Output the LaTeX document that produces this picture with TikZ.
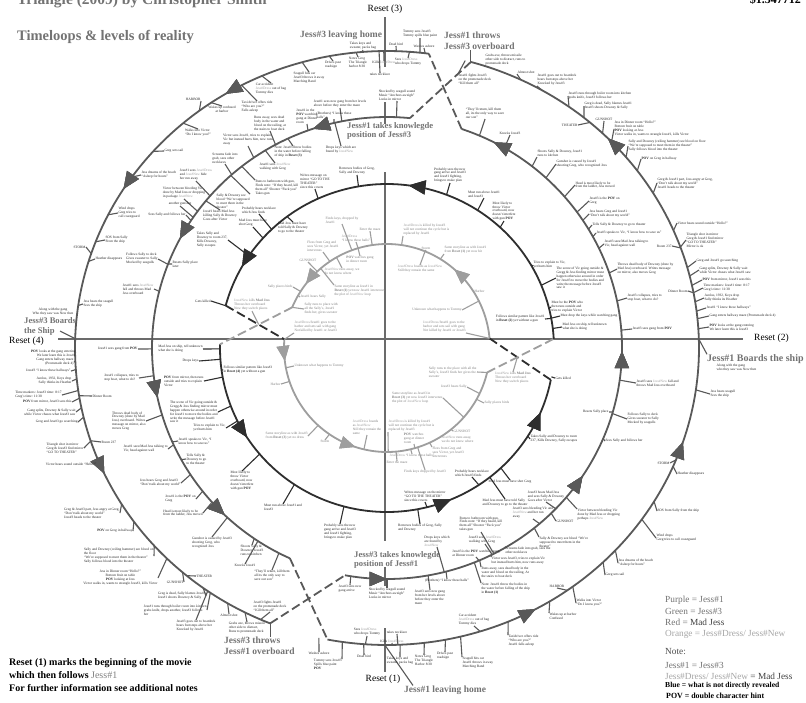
\documentclass[tikz,border=0pt]{standalone}
\usepackage{fontspec}
\setmainfont{Liberation Serif}
\usetikzlibrary{calc,decorations.markings,arrows.meta}
\definecolor{ringc}{gray}{0.35}
\definecolor{innc}{gray}{0.18}
\definecolor{grc}{gray}{0.62}
\definecolor{axc}{gray}{0.42}
\definecolor{ttl}{gray}{0.45}
\newcounter{tkn}
\newcommand{\jd}[1]{\textcolor{black!38}{#1}}
\def\Rox{312}\def\Roy{297}
\def\Rmx{235}\def\Rmy{231}
\def\Rix{167}\def\Riy{164}
\def\Rgx{103}\def\Rgy{104}
\newcommand{\tk}[5]{%
  \stepcounter{tkn}\edef\tkn{\arabic{tkn}}%
  \node[lbl,anchor=#3,#4] (L\tkn) at (#2) {#5};%
  \path let \p1=($(L\tkn.#3)-(C)$), \n1={atan2(\y1,\x1)} in
    coordinate (P\tkn) at ($(C)+(\n1:\csname R#1x\endcsname pt and \csname R#1y\endcsname pt)$);%
  \draw[tick-#1] (P\tkn) -- (L\tkn.#3);}
\tikzset{
 lbl/.style={font=\fontsize{3.5}{3.9}\selectfont, inner sep=0.3pt, text=black!85},
 gl/.style={text=black!50},
 tick-o/.style={draw=ringc, line width=1.1pt},
 tick-m/.style={draw=ringc, line width=1.1pt},
 tick-i/.style={draw=innc, line width=1.1pt},
 tick-g/.style={draw=grc, line width=1.1pt},
 ringo/.style={draw=ringc, line width=1.8pt},
 ringi/.style={draw=innc, line width=1.8pt},
 ringg/.style={draw=grc, line width=1.8pt},
 dashc/.style={draw=ringc, line width=1.8pt, dash pattern=on 9pt off 4pt},
 dashk/.style={draw=innc, line width=1.8pt, dash pattern=on 9pt off 4pt},
 dashg/.style={draw=grc, line width=1.8pt, dash pattern=on 9pt off 4pt},
 axis/.style={draw=axc, line width=1.6pt},
 big/.style={font=\bfseries\fontsize{9.5}{11}\selectfont, text=ttl, align=left, inner sep=0pt},
 resetl/.style={font=\fontsize{9.5}{11}\selectfont, text=black, inner sep=0pt},
 leg/.style={font=\fontsize{9.3}{11}\selectfont, inner sep=0pt, anchor=west},
 AR/.style={decoration={markings, mark=at position #1 with {\arrow{Triangle[length=17pt,width=14pt]}}}, postaction={decorate}},
 ARs/.style={decoration={markings, mark=at position #1 with {\arrow{Triangle[length=15pt,width=12.5pt]}}}, postaction={decorate}},
}
\begin{document}
\begin{tikzpicture}[x=1pt,y=-1pt]
\fill[white] (0,0) rectangle (806,702);
\useasboundingbox (0,0) rectangle (806,702);
\coordinate (C) at (387,348);

% ---------- titles ----------
\node[font=\bfseries\fontsize{15.5}{17}\selectfont, text=ttl, anchor=base west, inner sep=0pt] (title) at (17,4) {Triangle (2009) by Christopher Smith};
\node[font=\bfseries\fontsize{12}{14}\selectfont, anchor=base east, inner sep=0pt] (money) at (801,3.5) {\$1.547712};
\node[font=\bfseries\fontsize{14.5}{16}\selectfont, text=ttl, anchor=base west, inner sep=0pt] (sub) at (17,40) {Timeloops \& levels of reality};

% ---------- axes ----------
\coordinate (h1) at (58,339); \coordinate (h2) at (743,339);
\draw[axis] (h1) -- (h2);
\coordinate (v1) at (385,17); \coordinate (v2) at (385,67);
\coordinate (v3) at (385,102); \coordinate (v4) at (385,124);
\coordinate (v5) at (385,172); \coordinate (v6) at (385,541);
\coordinate (v7) at (385,567); \coordinate (v8) at (385,586);
\coordinate (v9) at (385,628); \coordinate (v10) at (385,672);
\draw[axis] (v1) -- (v2); \draw[axis] (v3) -- (v4); \draw[axis] (v5) -- (v6);
\draw[axis] (v7) -- (v8); \draw[axis] (v9) -- (v10);

% ---------- arc end points ----------
\coordinate (oRs) at ({387+\Rox*cos(101)},{348+\Roy*sin(101)});
\coordinate (oRe) at ({387+\Rox*cos(-74.4)},{348+\Roy*sin(-74.4)});
\coordinate (oLs) at ({387+\Rox*cos(-82.3)},{348+\Roy*sin(-82.3)});
\coordinate (oLe) at ({387+\Rox*cos(-248)},{348+\Roy*sin(-248)});
\coordinate (mLs) at ({387+\Rmx*cos(-84.4)},{348+\Rmy*sin(-84.4)});
\coordinate (mLe) at ({387+\Rmx*cos(-245.6)},{348+\Rmy*sin(-245.6)});
\coordinate (mRs) at ({387+\Rmx*cos(100.3)},{348+\Rmy*sin(100.3)});
\coordinate (mRe) at ({387+\Rmx*cos(-71.5)},{348+\Rmy*sin(-71.5)});
\coordinate (iUs) at ({387+\Rix*cos(-3.2)},{348+\Riy*sin(-3.2)});
\coordinate (iUe) at ({387+\Rix*cos(-165)},{348+\Riy*sin(-165)});
\coordinate (iLs) at ({387+\Rix*cos(-178.7)},{348+\Riy*sin(-178.7)});
\coordinate (iLe) at ({387+\Rix*cos(-348.8)},{348+\Riy*sin(-348.8)});
\coordinate (gLs) at ({387+\Rgx*cos(-175.2)},{348+\Rgy*sin(-175.2)});
\coordinate (gLe) at ({387+\Rgx*cos(-346.4)},{348+\Rgy*sin(-346.4)});
\coordinate (gUs) at ({387+\Rgx*cos(-5.3)},{348+\Rgy*sin(-5.3)});
\coordinate (gUe) at ({387+\Rgx*cos(-157)},{348+\Rgy*sin(-157)});
\coordinate (oBot) at ({387+\Rox*cos(90.4)},{348+\Roy*sin(90.4)});
\coordinate (oRt) at ({387+\Rox*cos(-1.7)},{348+\Roy*sin(-1.7)});
\coordinate (oLt) at ({387+\Rox*cos(-178.2)},{348+\Roy*sin(-178.2)});

% ---------- rings ----------
\draw[ringo, AR=0.23, AR=0.475, AR=0.83]
  plot[domain=101:-74.4, samples=160] ({387+\Rox*cos(\x)},{348+\Roy*sin(\x)});
\draw[ringo, AR=0.24, AR=0.40, AR=0.74]
  plot[domain=-82.3:-248, samples=160] ({387+\Rox*cos(\x)},{348+\Roy*sin(\x)});
\draw[ringo, AR=0.15, AR=0.42, AR=0.67, AR=0.88]
  plot[domain=-84.4:-245.6, samples=160] ({387+\Rmx*cos(\x)},{348+\Rmy*sin(\x)});
\draw[ringo, AR=0.06, AR=0.39, AR=0.58, AR=0.95]
  plot[domain=100.3:-71.5, samples=160] ({387+\Rmx*cos(\x)},{348+\Rmy*sin(\x)});
\draw[ringi, AR=0.49, AR=0.91]
  plot[domain=-3.2:-165, samples=140] ({387+\Rix*cos(\x)},{348+\Riy*sin(\x)});
\draw[ringi, AR=0.20, AR=0.67, AR=0.93]
  plot[domain=-178.7:-348.8, samples=140] ({387+\Rix*cos(\x)},{348+\Riy*sin(\x)});
\draw[ringg, ARs=0.07, ARs=0.45]
  plot[domain=-175.2:-346.4, samples=120] ({387+\Rgx*cos(\x)},{348+\Rgy*sin(\x)});
\draw[ringg, ARs=0.29, ARs=0.90]
  plot[domain=-5.3:-157, samples=120] ({387+\Rgx*cos(\x)},{348+\Rgy*sin(\x)});

% ---------- dashed crossings ----------
\draw[dashc] (oRe) -- (mLs);
\draw[dashc] (mRe) -- (oLs);
\draw[dashc] (oLe) -- (mRs);
\draw[dashc] (mLe) -- (oRs);
\draw[dashk] (iUe) -- (gLs);
\draw[dashg] (gUe) -- (iLs);
\draw[dashk] (iLe) -- (gUs);
\draw[dashg] (gLe) -- (iUs);
\coordinate (xL) at (intersection of iUe--gLs and gUe--iLs);
\coordinate (xR) at (intersection of iLe--gUs and gLe--iUs);

% ---------- big labels ----------
\node[resetl] (r3) at (385,9) {Reset (3)};
\node[resetl] (r1) at (383,679) {Reset (1)};
\node[resetl, anchor=west] (r4) at (9,341) {Reset (4)};
\node[resetl, anchor=west] (r2) at (754,338) {Reset (2)};
\node[big, anchor=west] (jlh3) at (300,35) {Jess\#3 leaving home};
\node[big, anchor=west] (jlh1) at (404,690) {Jess\#1 leaving home};
\draw[tick-o] (oBot) -- ([xshift=9pt]jlh1.north west);
\node[big, anchor=south west] (jt13) at (444,50) {Jess\#1 throws\\Jess\#3 overboard};
\draw[tick-o] (oRe) -- (oRe |- jt13.south);
\node[big, anchor=north west] (jt31) at (224,637) {Jess\#3 throws\\Jess\#1 overboard};
\draw[tick-o] (oLe) -- (oLe |- jt31.north);
\node[big, font=\bfseries\fontsize{8.6}{9.6}\selectfont, anchor=west] (jk13) at (347,131) {Jess\#1 takes knowlegde\\position of Jess\#3};
\node[big, font=\bfseries\fontsize{8.6}{9.6}\selectfont, anchor=west] (jk31) at (354,560) {Jess\#3 takes knowlegde\\position of Jess\#1};
\node[big, font=\bfseries\fontsize{10}{11}\selectfont, anchor=west] (jb1) at (707,359) {Jess\#1 Boards the ship};
\draw[tick-o] (oRt) -- (jb1.north west);
\node[big, font=\bfseries\fontsize{8.6}{10}\selectfont, anchor=west] (jb3) at (24,326) {Jess\#3 Boards\\the Ship};
\coordinate (jb3t) at (60,331);
\draw[tick-o] (oLt) -- (jb3t);
\node[lbl, align=left, anchor=north west] (alongR) at (716,364) {Along with the gang\\who they saw was New then};
\node[lbl, align=center] (alongL) at (53,312) {Along with the gang\\Who they saw was New then};

% ---------- outer ring, right arc ----------
\tk{o}{319,652}{north}{}{Washes ashore}
\tk{o}{342,659}{north east}{align=left}{Tommy sees Jess\#3\\Spills blue paint\\\textbf{POV}}
\tk{o}{364,655}{north}{}{Dead bird}
\tk{o}{367,636}{south}{align=left}{Sees \jd{Jess\#Dress}\\who drops Tommy}
\tk{o}{392,643}{south}{}{Kills \jd{Jess\#Dress}}
\tk{o}{397,634}{south}{}{takes necklace}
\tk{o}{400,657}{north}{align=left}{Takes keys and\\sweater, packs bag}
\tk{o}{424,655}{north}{align=left}{Notes Greg\\The Triangle\\Harbor 8:30}
\tk{o}{445,652}{north}{align=left}{Drives past\\roadsign}
\tk{o}{462,657}{north west}{align=left}{Seagull hits car\\Jess\#1 throws it away\\Marching Band}
\tk{o}{474,626}{south}{align=left}{Car accident\\\jd{Jess\#Dress} out of bag\\Tommy dies}
\tk{o}{508,635}{north west}{align=left}{Taxidriver offers ride\\``Who are you?''\\Jess\#1 falls asleep}
\tk{o}{549,613}{north west}{align=left}{Wakes up at harbor\\Confused}
\tk{o}{557,588}{south}{}{HARBOR}
\tk{o}{576,603}{west}{align=left}{Walks into Victor\\``Do I know you?''}
\tk{o}{605,575}{west}{}{Greg sets sail}
\tk{o}{618,563}{west}{align=left}{Jess dreams of the beach\\``Asleep for hours''}
\tk{o}{656,538}{west}{align=left}{Wind drops\\Greg tries to call coastguard}
\tk{o}{657,511}{west}{}{SOS from Sally from the ship}
\tk{o}{677,474}{west}{}{Heather disappears}
\tk{o}{670,463}{east}{}{STORM}
\tk{o}{710,394}{west}{align=left}{Jess hears seagull\\Sees the ship}
\tk{o}{709,327}{west}{align=left}{\textbf{POV} looks at the gang entering\\We later learn this is Jess\#3}
\tk{o}{709,316}{west}{}{Gang enters hallway maze (Promenade deck 4)}
\tk{o}{706,308}{west}{}{Jess\#1 ``I know these hallways''}
\tk{o}{704,298}{west}{align=left}{Aeolus, 1932, Keys drop\\Sally thinks its Heather}
\tk{o}{703,288}{west}{align=left}{Time markers: Jess\#1 time: 8:17\\Greg's time: 11:30}
\tk{o}{702,280}{west}{}{\textbf{POV} from mirror, Jess\#1 sees this}
\tk{o}{699,270}{west}{align=left}{Gang splits, Downey \& Sally wait\\while Victor chases what Jess\#1 saw}
\tk{o}{696,261}{west}{}{Greg and Jess\#1 go searching}
\tk{o}{688,291}{east}{}{Dinner Room}
\tk{o}{672,246}{east}{}{Room 237}
\tk{o}{686,240}{west}{align=left}{Triangle shot in mirror\\Greg \& Jess\#1 find mirror\\``GO TO THEATER''\\Mirror is ok}
\tk{o}{677,223}{west}{}{Victor hears sound outside ``Hello?''}
\tk{o}{657,183}{west}{align=left}{Greg \& Jess\#1 part, Jess angry at Greg,\\``Don't talk about my world''\\Jess\#1 heads to the theater}
\tk{o}{641,159}{west}{}{\textbf{POV} on Greg in hallway}
\tk{o}{628,146}{west}{align=left}{Sally and Downey (ceiling hammer) see blood on floor\\``We're supposed to meet them in the theater''\\Sally follows blood into the theater}
\tk{o}{614,129}{west}{align=left}{Jess in Dinner room ``Hello?''\\Bottom fruit on table\\\textbf{POV} looking at Jess\\Victor walks in, wants to strangle Jess\#1, kills Victor}
\tk{o}{604,121}{south}{}{GUNSHOT}
\tk{o}{578,125}{east}{}{THEATER}
\tk{o}{584,106}{west}{align=left}{Greg is dead, Sally blames Jess\#1\\Jess\#3 shoots Downey \& Sally}
\tk{o}{568,96}{west}{align=left}{Jess\#3 runs through boiler room into kitchen\\grabs knife, Jess\#3 follows her}
\tk{o}{537,86}{south west}{align=left}{Jess\#1 goes out to boatdeck\\hears footsteps above her\\Knocked by Jess\#3}
\tk{o}{517,74}{south west}{}{Almost shot}
\tk{o}{485,66}{south west}{align=left}{Grabs axe, throws missile\\other side to distract, runs to\\promenade deck}
\tk{o}{458,74}{north west}{align=left}{Jess\#1 fights Jess\#3\\on the promenade deck\\``Kill them all''}

% ---------- outer ring, left arc ----------
\tk{o}{424,48}{south}{}{Washes ashore}
\tk{o}{420,38}{south}{align=left}{Tommy sees Jess\#3\\Tommy spills blue paint}
\tk{o}{396,46}{south}{}{Dead bird}
\tk{o}{408,58}{north}{align=left}{Sees \jd{Jess\#Dress}\\who drops Tommy}
\tk{o}{384,61}{north}{}{Kills \jd{Jess\#Dress}}
\tk{o}{380,73}{north}{}{takes necklace}
\tk{o}{363,50}{south}{align=left}{Takes keys and\\sweater, packs bag}
\tk{o}{358,57}{north}{align=left}{Notes Greg\\The Triangle\\harbor 8:30}
\tk{o}{333,61}{north}{align=left}{Drives past\\roadsign}
\tk{o}{309,72}{north}{align=left}{Seagull hits car\\Jess\#3 throws it away\\Marching Band}
\tk{o}{271,83}{north}{align=left}{Car accident\\\jd{Jess\#Dress} out of bag\\Tommy dies}
\tk{o}{257,101}{north}{align=left}{Taxi driver offers ride\\``Who are you?''\\Falls asleep}
\tk{o}{222,106}{north}{align=center}{Wakes up confused\\at harbor}
\tk{o}{201,101}{south east}{}{HARBOR}
\tk{o}{198,129}{north}{align=left}{Walks into Victor\\``Do I know you?''}
\tk{o}{164,151}{west}{}{Greg sets sail}
\tk{o}{141,175}{west}{align=left}{Jess dreams of the beach\\``Asleep for hours''}
\tk{o}{118,213}{west}{align=left}{Wind drops\\Greg tries to\\call coastguard}
\tk{o}{105,240}{west}{align=left}{SOS from Sally\\From the ship}
\tk{o}{86,247}{east}{}{STORM}
\tk{o}{95,259}{west}{}{Heather disappears}
\tk{o}{83,304}{west}{align=left}{Jess hears the seagull\\Sees the ship}
\tk{o}{76,353}{east}{align=right}{\textbf{POV} looks at the gang entering\\We later learn this is Jess\#1}
\tk{o}{74,362}{east}{align=right}{Gang enters hallway maze\\(Promenade deck 4)}
\tk{o}{71,371}{east}{}{Jess\#3 ``I know these hallways''}
\tk{o}{72,381}{east}{align=right}{Aeolus, 1932, Keys drop\\Sally thinks its Heather}
\tk{o}{62,395}{east}{align=left}{Time markers: Jess\#3 time: 8:17\\Greg's time: 11:30}
\tk{o}{92,396}{west}{}{Dinner Room}
\tk{o}{72,402}{east}{}{\textbf{POV} from mirror, Jess\#3 sees this}
\tk{o}{76,412}{east}{align=right}{Gang splits, Downey \& Sally wait\\while Victor chases what Jess\#3 saw}
\tk{o}{78,422}{east}{}{Greg and Jess\#3 go searching}
\tk{o}{101,442}{west}{}{Room 237}
\tk{o}{84,448}{east}{align=left}{Triangle shot in mirror\\Greg \& Jess\#3 find mirror\\``GO TO THEATER''}
\tk{o}{97,464}{east}{}{Victor hears sound outside ``Hello?''}
\tk{o}{120,513}{east}{align=left}{Greg \& Jess\#3 part, Jess angry at Greg,\\``Don't talk about my world''\\Jess\#3 heads to the theater}
\tk{o}{133,531}{east}{}{\textbf{POV} on Greg in hallway}
\tk{o}{154,556}{east}{align=left}{Sally and Downey (ceiling hammer) see blood on\\the floor\\``We're supposed to meet them in the theater''\\Sally follows blood into the theater}
\tk{o}{158,578}{east}{align=center}{Jess in Dinner room ``Hello?''\\Bottom fruit on table\\\textbf{POV} looking at Jess\\Victor walks in, wants to strangle Jess\#3, kills Victor}
\tk{o}{184,582}{east}{}{GUNSHOT}
\tk{o}{196,576}{west}{}{THEATER}
\tk{o}{206,596}{east}{align=left}{Greg is dead, Sally blames Jess\#3\\Jess\#1 shoots Downey \& Sally}
\tk{o}{207,610}{east}{align=left}{Jess\#1 runs through boiler room into kitchen\\grabs knife, drops another, Jess\#3 follows\\her}
\tk{o}{196,620}{north}{align=left}{Jess\#3 goes out to boatdeck\\hears footsteps above her\\Knocked by Jess\#1}
\tk{o}{229,614}{north}{}{Almost shot}
\tk{o}{247,622}{north}{align=left}{Grabs axe, throws missile\\other side to distract,\\Runs to promenade deck}
\tk{o}{270,612}{south}{align=left}{Jess\#3 fights Jess\#1\\on the promenade deck\\``Kill them all''}

% ---------- middle ring, left arc ----------
\tk{m}{397,101}{south}{align=left}{Shocked by seagull sound\\Music ``Anchors aweigh''\\Looks in mirror}
\tk{m}{340,108}{south}{align=left}{Jess\#1 sees new gang from her levels\\above before they enter the maze}
\tk{m}{307,124}{south}{align=left}{Jess\#1 in the\\\textbf{POV} watching\\gang at Dinner\\room}
\tk{m}{334,119}{south}{align=left}{(Brothers) ``I know these\\halls''}
\tk{m}{341,146}{north}{align=left}{Drops keys which are\\found by \jd{Jess\#New}}
\tk{m}{270,131}{south}{align=left}{Runs away, sees dead\\body in the water and\\blood on the railing, at\\the stairs to boat deck}
\tk{m}{248,146}{south}{align=left}{Victor sees Jess\#1, tries to explain\\Vic but instead hurts him, now runs\\away}
\tk{m}{293,146}{north}{align=left}{Note: Jess\#3 threw bodies\\in the water before falling\\of ship in \textbf{Reset (3)}}
\tk{m}{275,163}{north}{align=left}{Jess\#1 sees \jd{Jess\#New}\\walking with Greg}
\tk{m}{225,164}{south}{align=left}{Screams fade into\\grab, sees other\\necklaces}
\tk{m}{255,180}{north west}{align=left}{Runs to bathroom with gun,\\Finds note: ``If they heard, kill\\them all'' Shooter ``Fuck you''\\Takes gun}
\tk{m}{250,194}{north east}{align=left}{Sally \& Downey see\\blood ``We're supposed\\to meet them in the\\theater''}
\tk{m}{184,199}{south}{align=left}{Victor between bleeding Vic\\done by Mad Jess or dropping\\in package \jd{Jess\#New}}
\tk{m}{196,181}{south}{align=left}{Jess\#1 sees \jd{Jess\#Dress}\\and \jd{Jess\#New} hide\\her run away}
\tk{m}{180,206}{south}{}{another gunshot}
\tk{m}{220,210}{north}{align=left}{Jess\#1 hears Mad Jess\\killing Sally \& Downey\\Goes after Victor}
\tk{m}{186,215}{east}{}{Sees Sally and follows her}
\tk{m}{158,259}{east}{align=left}{Follows Sally to deck\\Gives sweater to Sally\\Mocked by seagulls}
\tk{m}{172,264}{west}{align=left}{Resets Sally place\\later}
\tk{m}{154,289}{east}{align=left}{Jess\#1 sees \jd{Jess\#New}\\fall and throws Mad\\Jess overboard}
\tk{m}{138,349}{east}{}{Jess\#1 sees gang from \textbf{POV}}
\tk{m}{139,378}{east}{align=left}{Jess\#1 collapses, tries to\\stop boat, what to do?}
\tk{m}{146,421}{east}{align=left}{Throws dead body of\\Downey (done by Mad\\Jess) overboard. Writes\\message on mirror, also\\moves Greg}
\tk{m}{168,449}{east}{align=left}{Jess\#1 sees/Mad Jess talking to\\Vic, head against wall}
\tk{m}{178,441}{west}{align=left}{Jess\#1 speaks to Vic, ``I\\know how to save us''}
\tk{m}{186,459}{west}{align=left}{Tells Sally \&\\Downey to go\\to the theater}
\tk{m}{181,483}{east}{align=left}{Jess hears Greg and Jess\#3\\``Don't talk about my world''}
\tk{m}{196,499}{east}{align=left}{Jess\#1 is the \textbf{POV} on\\Greg}
\tk{m}{203,513}{east}{align=left}{Head is most likely to be\\from the ladder, Jess moved}
\tk{m}{212,537}{north}{align=left}{Gunshot is caused by Jess\#3\\shooting Greg, who\\recognized Jess}
\tk{m}{252,545}{north}{align=left}{Shoots Sally \&\\Downey, Jess\#3\\runs to kitchen}
\tk{m}{245,564}{north}{}{Knocks Jess\#1}
\tk{m}{272,570}{north}{align=left}{``They'll return, kill them\\all its the only way to\\save our son''}

% ---------- middle ring, right arc ----------
\tk{m}{350,585}{north}{align=left}{Jess\#3 sees new\\gang arrive}
\tk{m}{387,588}{north}{align=left}{Shocked by seagull sound\\Music ``Anchors aweigh''\\Looks in mirror}
\tk{m}{430,590}{north}{align=left}{Jess\#3 sees new gang\\from her levels above\\before they enter the\\maze}
\tk{m}{447,579}{north}{}{(Brothers) ``I know these halls''}
\tk{m}{437,547}{south}{align=left}{Drops keys which\\are found by\\\jd{Jess\#New}}
\tk{m}{476,557}{south}{align=left}{Jess\#3 is the \textbf{POV} watching gang\\at Dinner room}
\tk{m}{491,557}{north west}{align=left}{Victor sees Jess\#3, tries to explain Vic\\but instead hurts him, now runs away}
\tk{m}{481,567}{north west}{align=left}{Runs away, sees dead body in the\\water and blood on the railing, At\\the stairs to boat deck}
\tk{m}{481,583}{north west}{align=left}{Note: Jess\#1 threw the bodies in\\the water before falling of the ship\\in \textbf{Reset (1)}}
\tk{m}{505,547}{north west}{align=left}{Screams fade into grab, sees the\\other necklaces}
\tk{m}{485,544}{south}{align=left}{Jess\#3 sees \jd{Jess\#Dress}\\walking with Greg}
\tk{m}{481,532}{south}{align=left}{Runs to bathroom with gun,\\Finds note: ``If they heard, kill\\them all'' Shooter ``Fuck you''\\takes gun}
\tk{m}{539,537}{north west}{align=left}{Sally \& Downey see blood ``We're\\supposed to meet them in the\\theater''}
\tk{m}{533,519}{south}{align=left}{Jess\#3 sees bleeding Vic and\\\jd{Jess\#New} and her run\\away}
\tk{m}{556,521}{west}{}{GUNSHOT}
\tk{m}{546,502}{south}{align=left}{Jess\#3 hears Mad Jess\\and sees Sally \& Downey\\Goes after Victor}
\tk{m}{577,509}{north west}{align=left}{Victor between bleeding Vic\\done by Mad Jess or dropping\\perhaps \jd{Jess\#New}}
\tk{m}{605,441}{west}{}{Sees Sally and follows her}
\tk{m}{627,419}{west}{align=left}{Follows Sally to deck\\Gives sweater to Sally\\Mocked by seagulls}
\tk{m}{609,412}{east}{}{Resets Sally place}
\tk{m}{636,383}{west}{align=left}{Jess\#3 sees \jd{Jess\#New} fall and\\throws Mad Jess overboard}
\tk{m}{632,329}{west}{}{Jess\#3 sees gang from \textbf{POV}}
\tk{m}{627,298}{west}{align=left}{Jess\#3 collapses, tries to\\stop boat, what to do?}
\tk{m}{617,269}{west}{align=left}{Throws dead body of Downey (done by\\Mad Jess) overboard. Writes message\\on mirror, also moves Greg}
\tk{m}{604,244}{west}{align=left}{Jess\#3 sees/Mad Jess talking to\\Vic, head against wall}
\tk{m}{596,233}{west}{}{Jess\#3 speaks to Vic, ``I know how to save us''}
\tk{m}{592,225}{west}{}{Tells Sally \& Downey to go to theater}
\tk{m}{589,214}{west}{align=left}{Jess hears Greg and Jess\#1\\``Don't talk about my world''}
\tk{m}{589,201}{west}{align=left}{Jess\#3 is the \textbf{POV} on\\Greg}
\tk{m}{575,185}{west}{align=left}{Head is most likely to be\\from the ladder, Jess moved}
\tk{m}{556,164}{west}{align=left}{Gunshot is caused by Jess\#1\\shooting Greg, who recognized Jess}
\tk{m}{537,157}{south west}{align=left}{Shoots Sally \& Downey, Jess\#1\\runs to kitchen}
\tk{m}{510,135}{south}{}{Knocks Jess\#3}
\tk{m}{485,119}{south}{align=left}{``They'll return, kill them\\all, its the only way to save\\our son''}

% ---------- inner ring ----------
\tk{i}{253,227}{south}{align=left}{Mad Jess must have\\shot Greg}
\tk{i}{293,222}{north}{align=left}{Mad Jess must have\\told Sally \& Downey\\to go to the theater}
\tk{i}{259,214}{south}{align=left}{Probably hears necklace\\which Jess finds}
\tk{i}{315,189}{south}{align=left}{Writes message on\\mirror ``GO TO THE\\THEATER''\\since this covers}
\tk{i}{357,175}{south}{align=left}{Removes bodies of Greg,\\Sally and Downey}
\tk{i}{450,183}{south}{align=left}{Probably sees the new\\gang arrive and Jess\#3\\and Jess\#1 fighting,\\brings to make plan}
\tk{i}{484,198}{south}{align=left}{Must run above Jess\#1\\and Jess\#3}
\tk{i}{504,221}{south}{align=left}{Most likely to\\throw Victor\\overboard, now\\doesn't interfere\\with gun \textbf{POV}}
\tk{i}{228,240}{east}{align=left}{Takes Sally and\\Downey to room 237,\\Kills Downey,\\Sally escapes}
\tk{i}{211,301}{east}{}{Gets killed}
\tk{i}{203,349}{east}{align=left}{Mad Jess on ship, tell unknown\\what she is doing}
\tk{i}{199,361}{east}{}{Drops keys}
\tk{i}{204,381}{east}{align=left}{\textbf{POV} from mirror, then runs\\outside and tries to explain\\Victor}
\tk{i}{223,370}{west}{align=left}{Follows similar pattern like Jess\#3\\in \textbf{Reset (4)} yet without a gun}
\tk{i}{218,412}{east}{align=left}{The scene of Vic going outside \&\\Gregg \& Jess finding mirror must\\happen otherwise around in order\\for Jess\#1 to move the bodies and\\write the message before Jess\#1\\saw it}
\tk{i}{226,428}{east}{align=left}{Tries to explain to Vic,\\yet hurts him}
\tk{i}{242,471}{north}{align=left}{Most likely to\\throw Victor\\overboard, now\\doesn't interfere\\with gun \textbf{POV}}
\tk{i}{283,504}{north}{align=left}{Must run above Jess\#1 and\\Jess\#3}
\tk{i}{340,524}{north}{align=left}{Probably sees the new\\gang arrive and Jess\#3\\and Jess\#1 fighting,\\brings to make plan}
\tk{i}{425,502}{south}{align=left}{Writes message on the mirror\\``GO TO THE THEATER''\\since this covers}
\tk{i}{420,524}{north}{align=left}{Removes bodies of Greg, Sally\\and Downey}
\tk{i}{472,477}{south}{align=left}{Probably hears necklace\\which Jess\#3 finds}
\tk{i}{510,480}{north}{}{Mad Jess must have shot Greg}
\tk{i}{505,499}{north}{align=left}{Mad Jess must have told Sally\\and Downey to go to the theater}
\tk{i}{530,439}{west}{align=left}{Takes Sally and Downey to room\\237, Kills Downey, Sally escapes}
\tk{i}{555,378}{west}{}{Gets killed}
\tk{i}{562,327}{west}{align=left}{Mad Jess on ship, tell unknown\\what she is doing}
\tk{i}{560,316}{west}{}{Must drop the keys while watching gang}
\tk{i}{551,307}{west}{align=left}{Must be the \textbf{POV} who\\then runs outside and\\tries to explain Victor}
\tk{i}{545,319}{east}{align=left}{Follows similar pattern like Jess\#1\\in \textbf{Reset (2)} yet without a gun}
\tk{i}{556,278}{west}{align=left}{The scene of Vic going outside \&\\Gregg \& Jess finding mirror must\\happen otherwise around in order\\for Jess\#3 to move the bodies and\\write the message before Jess\#3\\saw it}
\tk{i}{533,265}{west}{align=left}{Tries to explain to Vic,\\yet hurts him}

% ---------- innermost (grey) ring ----------
\tk{g}{356,242}{south}{gl,align=left}{\jd{Jess\#Dress}\\``I know these halls''}
\tk{g}{323,252}{south}{gl,align=left}{Flees from Greg and\\sees Victor, yet Jess\#1\\intervenes}
\tk{g}{308,262}{south}{gl}{GUNSHOT}
\tk{g}{360,256}{north}{gl,align=left}{\textbf{POV} watches gang\\in dinner room}
\tk{g}{342,268}{north}{gl,align=left}{\jd{Jess\#New} runs away, we\\do not know where}
\tk{g}{334,285}{north west}{gl,align=left}{Same storyline as Jess\#1 in\\\textbf{Reset (1)} yet now Jess\#1 intervenes\\the plot of \jd{Jess\#New} loop}
\tk{g}{293,287}{east}{gl}{Sally places birds}
\tk{g}{300,297}{west}{gl}{Jess\#1 hears Sally}
\tk{g}{294,366}{west}{gl}{Unknown what happens to Tommy}
\tk{g}{281,384}{east}{gl}{Harbor}
\tk{g}{308,436}{east}{gl,align=left}{Same storyline as with Jess\#3\\from \textbf{Reset (3)} yet no dress}
\tk{g}{325,440}{north}{gl}{Storm}
\tk{g}{367,435}{south}{gl,align=left}{\jd{Jess\#Dress} boards\\as \jd{Jess\#New}\\Still they remain the\\same}
\tk{g}{388,432}{south west}{gl,align=left}{\jd{Jess\#Dress} is killed by Jess\#1\\will not continue the cycle but is\\replaced by Jess\#3}
\tk{g}{414,444}{south}{gl,align=left}{\textbf{POV} watches\\gang at dinner\\room}
\tk{g}{412,454}{north}{gl}{\jd{Jess\#Dress} ``I know these halls''}
\tk{g}{397,461}{north}{gl}{Enter the maze}
\tk{g}{425,470}{north}{gl}{Finds keys dropped by Jess\#3}
\tk{g}{342,224}{south}{gl,align=left}{Finds keys, dropped by\\Jess\#1}
\tk{g}{370,231}{south}{gl}{Enter the maze}
\tk{g}{403,236}{south west}{gl,align=left}{\jd{Jess\#Dress} is killed by Jess\#3\\will not continue the cycle but is\\replaced by Jess\#1}
\tk{g}{426,250}{south}{gl}{Storm}
\tk{g}{444,254}{south west}{gl,align=left}{Same storyline as with Jess\#1\\from \textbf{Reset (1)} yet now hit}
\tk{g}{420,265}{north}{gl,align=left}{\jd{Jess\#Dress} boards as \jd{Jess\#New}\\Still they remain the same}
\tk{g}{474,291}{west}{gl}{Harbor}
\tk{g}{462,310}{east}{gl}{Unknown what happens to Tommy}
\tk{g}{467,387}{east}{gl}{Jess\#3 hears Sally}
\tk{g}{484,403}{west}{gl}{Sally places birds}
\tk{g}{443,398}{east}{gl,align=left}{Same storyline as Jess\#3 in\\\textbf{Reset (3)} yet now Jess\#3 intervenes\\the plot of \jd{Jess\#New} loop}
\tk{g}{453,431}{west}{gl}{GUNSHOT}
\tk{g}{441,436}{north west}{gl,align=left}{\jd{Jess\#New} runs away,\\we do not know where}
\tk{g}{432,447}{north west}{gl,align=left}{Flees from Greg and\\sees Victor, yet Jess\#3\\intervenes}

% labels attached to the crossing points / arc ends
\node[lbl,gl,align=left,anchor=north west] (g9) at (304,303) {Sally runs to place with\\all the Sally's, Jess\#1\\finds her, gives sweater};
\draw[tick-g] (gUe) -- (g9.west);
\node[lbl,gl,align=left,anchor=south west] (g11) at (294,333) {\jd{Jess\#Dress}/Jess\#1 goes to the\\harbor and sets sail with gang\\Not killed by Jess\#1 or Jess\#3};
\draw[tick-g] (gLs) -- (g11.south west);
\node[lbl,gl,align=left,anchor=south east] (g27) at (466,333) {\jd{Jess\#Dress}/Jess\#1 goes to the\\harbor and sets sail with gang\\Not killed by Jess\#1 or Jess\#3};
\draw[tick-g] (gUs) -- (g27.south east);
\node[lbl,gl,align=left,anchor=east] (g28) at (477,372) {Sally runs to the place with all the\\Sally's, Jess\#3 finds her gives the\\sweater};
\draw[tick-g] (gLe) -- (g28.east);
\node[lbl,gl,align=left,anchor=south] (g10) at (252,311) {\jd{Jess\#New} kills \textbf{Mad Jess}\\Throws her overboard\\Now they switch places};
\draw[tick-g] (g10.south) -- (xL);
\node[lbl,gl,align=left,anchor=north] (g29) at (513,372) {\jd{Jess\#New} kills \textbf{Mad Jess}\\Throws her overboard\\Now they switch places};
\draw[tick-g] (g29.north) -- (xR);

% ---------- legend ----------
\node[leg, text=black!55] (lg1) at (665,600) {Purple = Jess\#1};
\node[leg, text=black!55] (lg2) at (665,611) {Green = Jess\#3};
\node[leg, text=black!55] (lg3) at (665,622) {Red = \textcolor{black!75}{Mad Jess}};
\node[leg, text=black!35] (lg4) at (665,634) {Orange = Jess\#Dress/ Jess\#New};
\node[leg, text=black!70] (lg5) at (665,652) {Note:};
\node[leg, text=black!55] (lg6) at (665,665) {Jess\#1 = Jess\#3};
\node[leg, text=black!35] (lg7) at (665,676) {Jess\#Dress/ Jess\#New \textcolor{black!75}{= Mad Jess}};
\node[leg, font=\bfseries\fontsize{7.6}{9}\selectfont] (lg8) at (665,686) {Blue = what is not directly revealed};
\node[leg, font=\bfseries\fontsize{7.9}{9}\selectfont] (lg9) at (666,696) {POV = double character hint};

\node[font=\bfseries\fontsize{10}{13}\selectfont, align=left, anchor=north west, inner sep=0pt] (note) at (9,658)
 {Reset (1) marks the beginning of the movie\\which then follows \textcolor{black!50}{\mdseries Jess\#1}\\For further information see additional notes};
\end{tikzpicture}
\end{document}
